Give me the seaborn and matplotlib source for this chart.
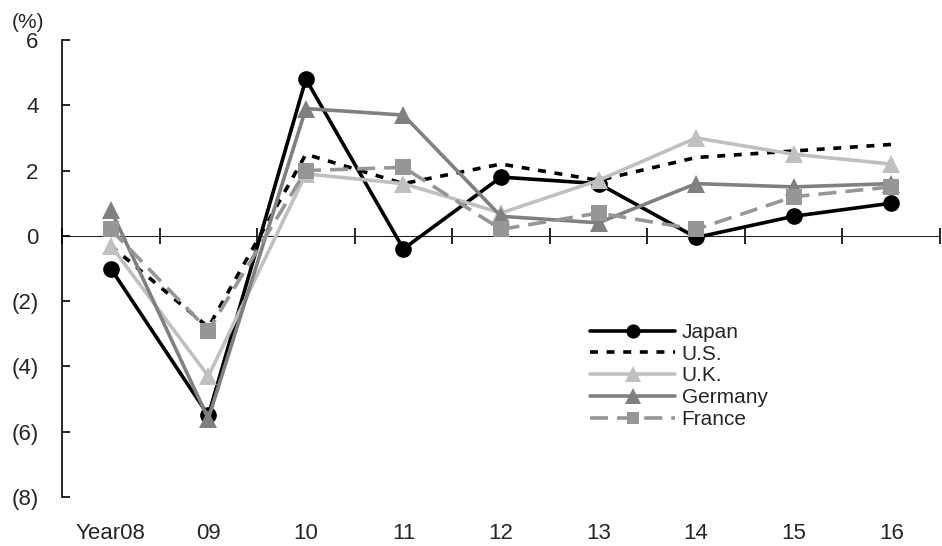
import numpy as np
import pandas as pd
import matplotlib
matplotlib.use("Agg")
import matplotlib.pyplot as plt
import seaborn as sns

years = ["Year08", "09", "10", "11", "12", "13", "14", "15", "16"]
japan = [-1.0, -5.5, 4.8, -0.4, 1.8, 1.6, -0.05, 0.6, 1.0]
us = [-0.3, -2.8, 2.5, 1.6, 2.2, 1.7, 2.4, 2.6, 2.8]
uk = [-0.3, -4.3, 1.9, 1.6, 0.7, 1.7, 3.0, 2.5, 2.2]
germany = [0.8, -5.6, 3.9, 3.7, 0.6, 0.4, 1.6, 1.5, 1.6]
france = [0.2, -2.9, 2.0, 2.1, 0.2, 0.7, 0.2, 1.2, 1.5]
yticks = [6, 4, 2, 0, -2, -4, -6, -8]

sns.set_style("white")
plt.rcParams['font.family'] = ['Liberation Sans', 'DejaVu Sans']

W, H = 942, 546
fig = plt.figure(figsize=(W / 100, H / 100), dpi=100)
ax = fig.add_axes([62 / W, (H - 497) / H, (940 - 62) / W, (497 - 40) / H])

x = np.arange(len(years))
series = [
    ("Japan", japan, dict(color="black", marker="o", markersize=12, linestyle="-")),
    ("U.S.", us, dict(color="black", marker=None, linestyle=(0, (2.2, 2.4)))),
    ("U.K.", uk, dict(color="#c0c0c0", marker="^", markersize=13, linestyle="-")),
    ("Germany", germany, dict(color="#808080", marker="^", markersize=13, linestyle="-")),
    ("France", france, dict(color="#969696", marker="s", markersize=11, linestyle=(0, (5, 2.5)))),
]
for name, vals, st in series:
    mk = st.pop("marker")
    kw = dict(st)
    if mk is not None:
        kw.update(marker=mk, markeredgewidth=0, markerfacecolor=st["color"])
    sns.lineplot(x=x, y=vals, ax=ax, label=name, linewidth=2.6, **kw)

ax.set_xlim(-0.5, 8.5)
ax.set_ylim(-8, 6)
ax.set_yticks(yticks)
ax.set_yticklabels([f"({abs(v)})" if v < 0 else f"{v}" for v in yticks], fontsize=16)
ax.set_xticks(x)
ax.set_xticklabels(years, fontsize=16)
ax.tick_params(axis='x', length=0, pad=19)
ax.tick_params(axis='y', direction='in', length=6, width=1.2, pad=17, left=True, color='black')
for s in ["top", "right", "bottom"]:
    ax.spines[s].set_visible(False)
ax.spines["left"].set_color("black")
ax.spines["left"].set_linewidth(1.2)
ax.grid(False)

sec = ax.secondary_xaxis(8 / 14)
sec.set_xticks(np.arange(-0.5, 9.0, 1.0))
sec.set_xticklabels([])
sec.tick_params(direction='inout', length=12, width=1.2, color='black')
sec.spines['bottom'].set_linewidth(1.2)
sec.spines['bottom'].set_color('black')

fig.text(28 / W, 1 - 22 / H, "(%)", fontsize=15, ha='center', va='center')

leg = ax.legend(loc='upper left', bbox_to_anchor=(590 / W, 1 - 323 / H),
                bbox_transform=fig.transFigure, frameon=False, fontsize=15,
                handlelength=4.1, handletextpad=0.3, labelspacing=0.13,
                borderpad=0, borderaxespad=0, markerscale=0.85)

fig.savefig("out.png", dpi=100)
